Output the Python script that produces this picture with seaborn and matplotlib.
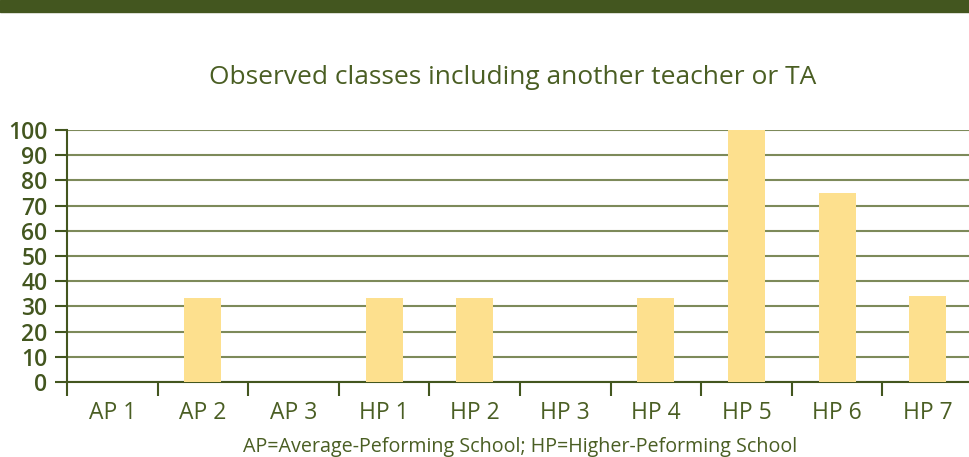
import matplotlib
matplotlib.use("Agg")
import matplotlib.pyplot as plt
import seaborn as sns
import pandas as pd

categories = ["AP 1", "AP 2", "AP 3", "HP 1", "HP 2", "HP 3", "HP 4", "HP 5", "HP 6", "HP 7"]
values = [0, 33.3, 0, 33.3, 33.3, 0, 33.3, 100, 75, 34]
yticks = [0, 10, 20, 30, 40, 50, 60, 70, 80, 90, 100]

df = pd.DataFrame({"school": categories, "pct": values})

sns.set_theme(style="white")
plt.rcParams['font.family'] = ['Open Sans', 'DejaVu Sans']

DARK = "#43561F"
GRID = "#7D8A5A"
TEXT = "#4A5E23"
BAR = "#FDE08E"

fig = plt.figure(figsize=(9.69, 4.57), dpi=100)
fig.patches.append(plt.Rectangle((0, 1 - 12/457), 1, 12/457, transform=fig.transFigure,
                                 color=DARK, zorder=0))
ax = fig.add_axes([67/969, 1 - 382/457, (973-67)/969, (382-130)/457])

sns.barplot(data=df, x="school", y="pct", color=BAR, width=0.41, ax=ax,
            saturation=1, zorder=3, linewidth=0)
ax.set_ylim(0, 100)
ax.set_xlim(-0.5, 9.5)
ax.set_yticks(yticks)
ax.set_yticklabels([str(v) for v in yticks], color=TEXT, fontsize=16.5, fontweight="semibold")
ax.tick_params(axis="y", left=True, colors=DARK, length=9, width=1.5, direction="out", pad=5)
ax.set_xticks([i - 0.5 for i in range(len(categories))], minor=True)
ax.set_xticks(range(len(categories)))
ax.set_xticklabels(categories, color=TEXT, fontsize=16.5)
ax.tick_params(axis="x", which="major", bottom=True, length=0, pad=14)
ax.tick_params(axis="x", which="minor", bottom=True, length=10, width=1.5, color=DARK,
               direction="out")
ax.grid(axis="y", color=GRID, linewidth=1.5, zorder=1)
ax.set_axisbelow(True)
for s in ["top", "right"]:
    ax.spines[s].set_visible(False)
ax.spines["left"].set_color(DARK)
ax.spines["left"].set_linewidth(1.5)
ax.spines["bottom"].set_color(DARK)
ax.spines["bottom"].set_linewidth(1.5)
ax.set_ylabel("")
ax.set_xlabel("AP=Average-Peforming School; HP=Higher-Peforming School", color=TEXT,
              fontsize=14.2, labelpad=8)
fig.text(513/969, 1 - 78/457, "Observed classes including another teacher or TA",
         ha="center", va="center", color=TEXT, fontsize=19)
fig.savefig("out.png", dpi=100)
